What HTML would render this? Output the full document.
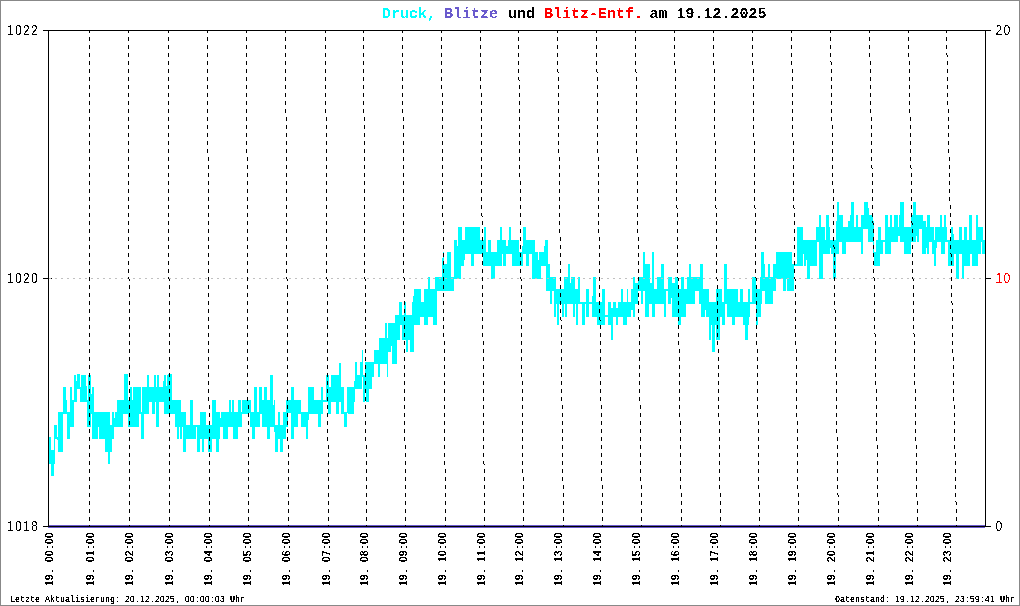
<!DOCTYPE html>
<html><head><meta charset="utf-8"><title>Druck, Blitze und Blitz-Entf. am 19.12.2025</title>
<style>
html,body{margin:0;padding:0;background:#fff;}
body{width:1020px;height:606px;overflow:hidden;}
svg{display:block;}
text{white-space:pre;}
.m{font-family:"Liberation Mono",monospace;}
.s{font-family:"Liberation Sans",sans-serif;}
.b{font-weight:bold;}
</style></head>
<body>
<svg width="1020" height="606" viewBox="0 0 1020 606">
<rect width="1020" height="606" fill="#fff"/>
<g shape-rendering="crispEdges">
<path fill="#00ffff" d="M49 437h2v27h-2zM51 450h3v26h-3zM54 425h1v39h-1zM55 425h2v14h-2zM57 437h1v3h-1zM58 412h5v40h-5zM63 387h3v27h-3zM66 400h1v14h-1zM67 412h3v27h-3zM70 387h2v40h-2zM72 400h2v27h-2zM74 375h2v27h-2zM76 381h1v21h-1zM77 374h3v15h-3zM80 387h1v15h-1zM81 375h5v27h-5zM86 386h1v16h-1zM87 400h1v27h-1zM88 375h3v52h-3zM91 394h1v20h-1zM92 387h2v52h-2zM94 412h4v27h-4zM98 412h1v15h-1zM99 412h6v27h-6zM105 412h3v40h-3zM108 412h2v52h-2zM110 425h2v27h-2zM112 412h2v27h-2zM114 418h1v9h-1zM115 412h2v15h-2zM117 400h6v27h-6zM123 400h1v14h-1zM124 374h4v40h-4zM128 400h2v27h-2zM130 387h2v40h-2zM132 400h1v27h-1zM133 387h6v40h-6zM139 387h2v27h-2zM141 412h1v27h-1zM142 387h2v52h-2zM144 387h3v27h-3zM147 375h2v39h-2zM149 387h3v15h-3zM152 387h2v27h-2zM154 375h1v39h-1zM155 375h1v27h-1zM156 387h1v40h-1zM157 375h2v52h-2zM159 387h4v15h-4zM163 381h1v21h-1zM164 375h2v39h-2zM166 386h1v28h-1zM167 375h1v39h-1zM168 374h4v40h-4zM172 400h3v14h-3zM175 400h2v27h-2zM177 400h2v39h-2zM179 400h1v27h-1zM180 400h1v39h-1zM181 412h1v27h-1zM182 412h1v15h-1zM183 412h3v40h-3zM186 425h4v14h-4zM190 400h3v39h-3zM193 425h3v14h-3zM196 425h1v2h-1zM197 425h3v27h-3zM200 412h2v27h-2zM202 412h2v40h-2zM204 412h2v27h-2zM206 425h2v14h-2zM208 425h4v27h-4zM212 400h4v39h-4zM216 412h3v40h-3zM219 412h1v27h-1zM220 418h1v9h-1zM221 412h2v15h-2zM223 412h5v27h-5zM228 412h1v15h-1zM229 400h2v27h-2zM231 412h1v15h-1zM232 400h1v27h-1zM233 400h1v39h-1zM234 412h4v27h-4zM238 400h3v27h-3zM241 412h1v15h-1zM242 400h6v14h-6zM248 400h2v13h-2zM250 400h1v27h-1zM251 412h1v15h-1zM252 412h2v27h-2zM254 387h1v52h-1zM255 387h2v40h-2zM257 412h2v15h-2zM259 387h1v40h-1zM260 387h2v27h-2zM262 400h2v27h-2zM264 387h3v40h-3zM267 400h3v39h-3zM270 375h3v52h-3zM273 405h1v22h-1zM274 400h1v32h-1zM275 425h3v27h-3zM278 412h2v27h-2zM280 425h3v27h-3zM283 412h3v27h-3zM286 400h2v27h-2zM288 400h3v13h-3zM291 387h3v52h-3zM294 400h4v27h-4zM298 400h3v14h-3zM301 412h5v15h-5zM306 412h2v27h-2zM308 387h1v33h-1zM309 387h5v27h-5zM314 400h4v14h-4zM318 400h3v27h-3zM321 387h2v27h-2zM323 400h3v2h-3zM326 375h2v27h-2zM328 375h1v39h-1zM329 387h2v27h-2zM331 375h5v27h-5zM336 375h3v39h-3zM339 363h2v39h-2zM341 387h3v27h-3zM344 412h3v15h-3zM347 387h1v26h-1zM348 387h6v27h-6zM354 381h1v21h-1zM355 362h2v27h-2zM357 375h3v14h-3zM360 362h2v27h-2zM362 350h1v27h-1zM363 375h2v27h-2zM365 362h1v27h-1zM366 362h3v40h-3zM369 362h3v27h-3zM372 362h2v15h-2zM374 350h4v14h-4zM378 350h1v27h-1zM379 338h1v39h-1zM380 338h5v26h-5zM385 323h2v41h-2zM387 338h1v39h-1zM388 323h3v29h-3zM391 323h1v23h-1zM392 323h3v41h-3zM395 315h2v49h-2zM397 315h2v25h-2zM399 302h1v38h-1zM400 302h2v23h-2zM402 315h2v25h-2zM404 302h2v38h-2zM406 315h2v37h-2zM408 315h2v25h-2zM410 315h2v37h-2zM412 302h1v50h-1zM413 296h1v56h-1zM414 289h6v36h-6zM420 289h1v28h-1zM421 302h3v15h-3zM424 289h4v36h-4zM428 277h2v40h-2zM430 289h3v28h-3zM433 289h2v36h-2zM435 277h2v48h-2zM437 277h5v14h-5zM442 258h1v33h-1zM443 252h1v39h-1zM444 264h3v27h-3zM447 252h4v39h-4zM451 277h3v14h-3zM454 240h3v39h-3zM457 246h1v33h-1zM458 227h3v52h-3zM461 227h1v39h-1zM462 240h2v26h-2zM464 240h1v20h-1zM465 227h6v27h-6zM471 227h3v39h-3zM474 227h6v27h-6zM480 240h3v14h-3zM483 240h1v26h-1zM484 227h2v39h-2zM486 252h2v14h-2zM488 240h3v26h-3zM491 252h4v27h-4zM495 252h2v14h-2zM497 240h3v26h-3zM500 227h2v39h-2zM502 240h1v14h-1zM503 240h3v26h-3zM506 246h2v8h-2zM508 240h1v14h-1zM509 227h2v27h-2zM511 240h1v14h-1zM512 240h7v26h-7zM519 252h3v14h-3zM522 246h1v20h-1zM523 227h3v27h-3zM526 240h3v26h-3zM529 240h3v14h-3zM532 240h3v39h-3zM535 252h3v27h-3zM538 260h1v19h-1zM539 252h2v27h-2zM541 252h3v14h-3zM544 246h1v20h-1zM545 240h1v26h-1zM546 240h2v51h-2zM548 264h2v27h-2zM550 277h2v27h-2zM552 277h2v14h-2zM554 277h2v40h-2zM556 289h1v15h-1zM557 289h2v36h-2zM559 289h3v15h-3zM562 289h2v28h-2zM564 277h1v27h-1zM565 277h2v40h-2zM567 277h1v27h-1zM568 264h2v40h-2zM570 283h1v21h-1zM571 277h2v27h-2zM573 277h2v40h-2zM575 289h1v15h-1zM576 289h2v36h-2zM578 277h2v27h-2zM580 302h2v2h-2zM582 302h3v23h-3zM585 302h1v2h-1zM586 289h3v28h-3zM589 302h3v2h-3zM592 296h1v21h-1zM593 277h3v40h-3zM596 302h1v15h-1zM597 302h5v23h-5zM602 289h3v36h-3zM605 315h3v2h-3zM608 302h3v23h-3zM611 308h2v32h-2zM613 302h3v15h-3zM616 308h2v17h-2zM618 302h3v15h-3zM621 289h2v28h-2zM623 302h4v23h-4zM627 289h1v28h-1zM628 302h3v15h-3zM631 289h2v21h-2zM633 277h2v40h-2zM635 283h3v21h-3zM638 277h3v14h-3zM641 277h2v27h-2zM643 252h2v39h-2zM645 264h4v53h-4zM649 264h1v40h-1zM650 283h2v21h-2zM652 252h2v65h-2zM654 289h1v28h-1zM655 289h2v15h-2zM657 277h4v27h-4zM661 264h3v40h-3zM664 289h2v28h-2zM666 289h2v2h-2zM668 277h3v27h-3zM671 277h1v21h-1zM672 283h3v34h-3zM675 277h3v40h-3zM678 289h3v36h-3zM681 277h3v40h-3zM684 289h2v28h-2zM686 289h1v15h-1zM687 277h2v27h-2zM689 264h2v40h-2zM691 277h4v27h-4zM695 277h4v14h-4zM699 277h1v27h-1zM700 264h1v40h-1zM701 264h2v53h-2zM703 289h2v28h-2zM705 289h1v21h-1zM706 289h3v28h-3zM709 302h2v38h-2zM711 302h1v23h-1zM712 302h3v50h-3zM715 302h1v23h-1zM716 289h4v51h-4zM720 289h2v28h-2zM722 302h2v23h-2zM724 264h1v61h-1zM725 264h2v40h-2zM727 289h5v28h-5zM732 289h3v36h-3zM735 289h3v28h-3zM738 302h2v15h-2zM740 289h3v28h-3zM743 302h2v23h-2zM745 302h3v38h-3zM748 289h1v36h-1zM749 289h1v28h-1zM750 302h2v2h-2zM752 277h4v27h-4zM756 289h2v36h-2zM758 289h2v28h-2zM760 277h1v40h-1zM761 252h1v52h-1zM762 252h2v39h-2zM764 264h1v27h-1zM765 277h3v27h-3zM768 264h2v40h-2zM770 277h3v27h-3zM773 264h3v27h-3zM776 252h7v27h-7zM783 252h3v39h-3zM786 252h1v27h-1zM787 252h5v39h-5zM792 264h2v27h-2zM794 264h3v2h-3zM797 227h6v39h-6zM803 240h1v14h-1zM804 240h2v26h-2zM806 240h1v20h-1zM807 240h3v39h-3zM810 240h6v26h-6zM816 227h1v39h-1zM817 227h2v15h-2zM819 215h2v64h-2zM821 227h2v52h-2zM823 227h2v27h-2zM825 240h1v14h-1zM826 215h3v39h-3zM829 227h1v27h-1zM830 240h1v8h-1zM831 240h2v14h-2zM833 240h3v39h-3zM836 221h1v33h-1zM837 202h2v52h-2zM839 215h3v27h-3zM842 215h1v39h-1zM843 227h3v27h-3zM846 227h2v15h-2zM848 221h2v21h-2zM850 215h1v27h-1zM851 202h3v40h-3zM854 227h2v15h-2zM856 215h2v27h-2zM858 227h3v15h-3zM861 215h2v39h-2zM863 215h1v14h-1zM864 202h4v27h-4zM868 208h1v34h-1zM869 215h4v27h-4zM873 221h1v33h-1zM874 252h2v14h-2zM876 240h2v26h-2zM878 227h2v39h-2zM880 227h1v27h-1zM881 240h2v14h-2zM883 240h2v2h-2zM885 215h3v39h-3zM888 227h2v27h-2zM890 215h1v39h-1zM891 215h1v27h-1zM892 227h2v15h-2zM894 215h4v27h-4zM898 227h1v9h-1zM899 215h1v21h-1zM900 202h4v40h-4zM904 227h7v27h-7zM911 215h2v27h-2zM913 202h3v40h-3zM916 215h1v21h-1zM917 215h2v27h-2zM919 215h3v14h-3zM922 215h1v39h-1zM923 221h3v33h-3zM926 227h1v21h-1zM927 215h2v39h-2zM929 215h1v27h-1zM930 227h2v15h-2zM932 227h2v27h-2zM934 240h1v26h-1zM935 227h1v39h-1zM936 227h1v21h-1zM937 227h3v15h-3zM940 215h1v27h-1zM941 215h1v39h-1zM942 227h2v27h-2zM944 215h1v39h-1zM945 215h1v27h-1zM946 227h1v15h-1zM947 240h1v2h-1zM948 240h3v26h-3zM951 227h2v39h-2zM953 234h1v32h-1zM954 240h2v14h-2zM956 240h3v39h-3zM959 227h3v27h-3zM962 240h2v39h-2zM964 227h3v39h-3zM967 240h2v26h-2zM969 215h1v51h-1zM970 215h2v39h-2zM972 240h4v26h-4zM976 215h2v51h-2zM978 227h3v27h-3zM981 227h1v15h-1zM982 227h1v27h-1zM983 240h2v14h-2z"/>
<rect x="48" y="525" width="937" height="3" fill="#6a5acd"/>
<path fill="#c0c0c0" d="M49 278h2v1h-2zM55 278h2v1h-2zM61 278h2v1h-2zM67 278h2v1h-2zM73 278h2v1h-2zM79 278h2v1h-2zM85 278h2v1h-2zM91 278h2v1h-2zM97 278h2v1h-2zM103 278h2v1h-2zM109 278h2v1h-2zM115 278h2v1h-2zM121 278h2v1h-2zM127 278h2v1h-2zM133 278h2v1h-2zM139 278h2v1h-2zM145 278h2v1h-2zM151 278h2v1h-2zM157 278h2v1h-2zM163 278h2v1h-2zM169 278h2v1h-2zM175 278h2v1h-2zM181 278h2v1h-2zM187 278h2v1h-2zM193 278h2v1h-2zM199 278h2v1h-2zM205 278h2v1h-2zM211 278h2v1h-2zM217 278h2v1h-2zM223 278h2v1h-2zM229 278h2v1h-2zM235 278h2v1h-2zM241 278h2v1h-2zM247 278h2v1h-2zM253 278h2v1h-2zM259 278h2v1h-2zM265 278h2v1h-2zM271 278h2v1h-2zM277 278h2v1h-2zM283 278h2v1h-2zM289 278h2v1h-2zM295 278h2v1h-2zM301 278h2v1h-2zM307 278h2v1h-2zM313 278h2v1h-2zM319 278h2v1h-2zM325 278h2v1h-2zM331 278h2v1h-2zM337 278h2v1h-2zM343 278h2v1h-2zM349 278h2v1h-2zM355 278h2v1h-2zM361 278h2v1h-2zM367 278h2v1h-2zM373 278h2v1h-2zM379 278h2v1h-2zM385 278h2v1h-2zM391 278h2v1h-2zM397 278h2v1h-2zM403 278h2v1h-2zM409 278h2v1h-2zM415 278h2v1h-2zM421 278h2v1h-2zM427 278h2v1h-2zM433 278h2v1h-2zM439 278h2v1h-2zM445 278h2v1h-2zM451 278h2v1h-2zM457 278h2v1h-2zM463 278h2v1h-2zM469 278h2v1h-2zM475 278h2v1h-2zM481 278h2v1h-2zM487 278h2v1h-2zM493 278h2v1h-2zM499 278h2v1h-2zM505 278h2v1h-2zM511 278h2v1h-2zM517 278h2v1h-2zM523 278h2v1h-2zM529 278h2v1h-2zM535 278h2v1h-2zM541 278h2v1h-2zM547 278h2v1h-2zM553 278h2v1h-2zM559 278h2v1h-2zM565 278h2v1h-2zM571 278h2v1h-2zM577 278h2v1h-2zM583 278h2v1h-2zM589 278h2v1h-2zM595 278h2v1h-2zM601 278h2v1h-2zM607 278h2v1h-2zM613 278h2v1h-2zM619 278h2v1h-2zM625 278h2v1h-2zM631 278h2v1h-2zM637 278h2v1h-2zM643 278h2v1h-2zM649 278h2v1h-2zM655 278h2v1h-2zM661 278h2v1h-2zM667 278h2v1h-2zM673 278h2v1h-2zM679 278h2v1h-2zM685 278h2v1h-2zM691 278h2v1h-2zM697 278h2v1h-2zM703 278h2v1h-2zM709 278h2v1h-2zM715 278h2v1h-2zM721 278h2v1h-2zM727 278h2v1h-2zM733 278h2v1h-2zM739 278h2v1h-2zM745 278h2v1h-2zM751 278h2v1h-2zM757 278h2v1h-2zM763 278h2v1h-2zM769 278h2v1h-2zM775 278h2v1h-2zM781 278h2v1h-2zM787 278h2v1h-2zM793 278h2v1h-2zM799 278h2v1h-2zM805 278h2v1h-2zM811 278h2v1h-2zM817 278h2v1h-2zM823 278h2v1h-2zM829 278h2v1h-2zM835 278h2v1h-2zM841 278h2v1h-2zM847 278h2v1h-2zM853 278h2v1h-2zM859 278h2v1h-2zM865 278h2v1h-2zM871 278h2v1h-2zM877 278h2v1h-2zM883 278h2v1h-2zM889 278h2v1h-2zM895 278h2v1h-2zM901 278h2v1h-2zM907 278h2v1h-2zM913 278h2v1h-2zM919 278h2v1h-2zM925 278h2v1h-2zM931 278h2v1h-2zM937 278h2v1h-2zM943 278h2v1h-2zM949 278h2v1h-2zM955 278h2v1h-2zM961 278h2v1h-2zM967 278h2v1h-2zM973 278h2v1h-2zM979 278h2v1h-2z"/>
<rect x="51" y="278" width="1" height="1" fill="#000"/>
<path fill="#000" d="M89 31h1v2h-1zM89 37h1v4h-1zM89 45h1v4h-1zM89 53h1v4h-1zM89 61h1v4h-1zM89 69h1v4h-1zM89 77h1v4h-1zM89 85h1v4h-1zM89 93h1v4h-1zM89 101h1v4h-1zM89 109h1v4h-1zM89 117h1v4h-1zM89 125h1v4h-1zM89 133h1v4h-1zM89 141h1v4h-1zM89 149h1v4h-1zM89 157h1v4h-1zM89 165h1v4h-1zM89 173h1v4h-1zM89 181h1v4h-1zM89 189h1v4h-1zM89 197h1v4h-1zM89 205h1v4h-1zM89 213h1v4h-1zM89 221h1v4h-1zM89 229h1v4h-1zM89 237h1v4h-1zM89 245h1v4h-1zM89 253h1v4h-1zM89 261h1v4h-1zM89 269h1v4h-1zM89 277h1v4h-1zM89 285h1v4h-1zM89 293h1v4h-1zM89 301h1v4h-1zM89 309h1v4h-1zM89 317h1v4h-1zM89 325h1v4h-1zM89 333h1v4h-1zM89 341h1v4h-1zM89 349h1v4h-1zM89 357h1v4h-1zM89 365h1v4h-1zM89 373h1v4h-1zM89 381h1v4h-1zM89 389h1v4h-1zM89 397h1v4h-1zM89 405h1v4h-1zM89 413h1v4h-1zM89 421h1v4h-1zM89 429h1v4h-1zM89 437h1v4h-1zM89 445h1v4h-1zM89 453h1v4h-1zM89 461h1v4h-1zM89 469h1v4h-1zM89 477h1v4h-1zM89 485h1v4h-1zM89 493h1v4h-1zM89 501h1v4h-1zM89 509h1v4h-1zM89 517h1v4h-1zM89 525h1v1h-1zM128 31h1v2h-1zM128 37h1v4h-1zM128 45h1v4h-1zM128 53h1v4h-1zM128 61h1v4h-1zM128 69h1v4h-1zM128 77h1v4h-1zM128 85h1v4h-1zM128 93h1v4h-1zM128 101h1v4h-1zM128 109h1v4h-1zM128 117h1v4h-1zM128 125h1v4h-1zM128 133h1v4h-1zM128 141h1v4h-1zM128 149h1v4h-1zM128 157h1v4h-1zM128 165h1v4h-1zM128 173h1v4h-1zM128 181h1v4h-1zM128 189h1v4h-1zM128 197h1v4h-1zM128 205h1v4h-1zM128 213h1v4h-1zM128 221h1v4h-1zM128 229h1v4h-1zM128 237h1v4h-1zM128 245h1v4h-1zM128 253h1v4h-1zM128 261h1v4h-1zM128 269h1v4h-1zM128 277h1v2h-1zM129 279h1v2h-1zM129 285h1v4h-1zM129 293h1v4h-1zM129 301h1v4h-1zM129 309h1v4h-1zM129 317h1v4h-1zM129 325h1v4h-1zM129 333h1v4h-1zM129 341h1v4h-1zM129 349h1v4h-1zM129 357h1v4h-1zM129 365h1v4h-1zM129 373h1v4h-1zM129 381h1v4h-1zM129 389h1v4h-1zM129 397h1v4h-1zM129 405h1v4h-1zM129 413h1v4h-1zM129 421h1v4h-1zM129 429h1v4h-1zM129 437h1v4h-1zM129 445h1v4h-1zM129 453h1v4h-1zM129 461h1v4h-1zM129 469h1v4h-1zM129 477h1v4h-1zM129 485h1v4h-1zM129 493h1v4h-1zM129 501h1v4h-1zM129 509h1v4h-1zM129 517h1v4h-1zM129 525h1v1h-1zM168 31h1v2h-1zM168 37h1v4h-1zM168 45h1v4h-1zM168 53h1v4h-1zM168 61h1v4h-1zM168 69h1v4h-1zM168 77h1v4h-1zM168 85h1v4h-1zM168 93h1v4h-1zM168 101h1v4h-1zM168 109h1v4h-1zM168 117h1v4h-1zM168 125h1v4h-1zM168 133h1v4h-1zM168 141h1v4h-1zM168 149h1v4h-1zM168 157h1v4h-1zM168 165h1v4h-1zM168 173h1v4h-1zM168 181h1v4h-1zM168 189h1v4h-1zM168 197h1v4h-1zM168 205h1v4h-1zM168 213h1v4h-1zM168 221h1v4h-1zM168 229h1v4h-1zM168 237h1v4h-1zM168 245h1v4h-1zM168 253h1v4h-1zM168 261h1v4h-1zM168 269h1v4h-1zM168 277h1v2h-1zM169 279h1v2h-1zM169 285h1v4h-1zM169 293h1v4h-1zM169 301h1v4h-1zM169 309h1v4h-1zM169 317h1v4h-1zM169 325h1v4h-1zM169 333h1v4h-1zM169 341h1v4h-1zM169 349h1v4h-1zM169 357h1v4h-1zM169 365h1v4h-1zM169 373h1v4h-1zM169 381h1v4h-1zM169 389h1v4h-1zM169 397h1v4h-1zM169 405h1v4h-1zM169 413h1v4h-1zM169 421h1v4h-1zM169 429h1v4h-1zM169 437h1v4h-1zM169 445h1v4h-1zM169 453h1v4h-1zM169 461h1v4h-1zM169 469h1v4h-1zM169 477h1v4h-1zM169 485h1v4h-1zM169 493h1v4h-1zM169 501h1v4h-1zM169 509h1v4h-1zM169 517h1v4h-1zM169 525h1v1h-1zM207 31h1v2h-1zM207 37h1v4h-1zM207 45h1v4h-1zM207 53h1v4h-1zM207 61h1v4h-1zM207 69h1v4h-1zM207 77h1v4h-1zM207 85h1v4h-1zM207 93h1v4h-1zM207 101h1v4h-1zM207 109h1v4h-1zM207 117h1v4h-1zM207 125h1v4h-1zM207 133h1v4h-1zM207 141h1v4h-1zM207 149h1v4h-1zM208 157h1v4h-1zM208 165h1v4h-1zM208 173h1v4h-1zM208 181h1v4h-1zM208 189h1v4h-1zM208 197h1v4h-1zM208 205h1v4h-1zM208 213h1v4h-1zM208 221h1v4h-1zM208 229h1v4h-1zM208 237h1v4h-1zM208 245h1v4h-1zM208 253h1v4h-1zM208 261h1v4h-1zM208 269h1v4h-1zM208 277h1v4h-1zM208 285h1v4h-1zM208 293h1v4h-1zM208 301h1v4h-1zM208 309h1v4h-1zM208 317h1v4h-1zM208 325h1v4h-1zM208 333h1v4h-1zM208 341h1v4h-1zM208 349h1v4h-1zM208 357h1v4h-1zM208 365h1v4h-1zM208 373h1v4h-1zM208 381h1v4h-1zM208 389h1v4h-1zM208 397h1v4h-1zM209 405h1v4h-1zM209 413h1v4h-1zM209 421h1v4h-1zM209 429h1v4h-1zM209 437h1v4h-1zM209 445h1v4h-1zM209 453h1v4h-1zM209 461h1v4h-1zM209 469h1v4h-1zM209 477h1v4h-1zM209 485h1v4h-1zM209 493h1v4h-1zM209 501h1v4h-1zM209 509h1v4h-1zM209 517h1v4h-1zM209 525h1v1h-1zM246 31h1v2h-1zM246 37h1v4h-1zM246 45h1v4h-1zM246 53h1v4h-1zM246 61h1v4h-1zM246 69h1v4h-1zM246 77h1v4h-1zM246 85h1v4h-1zM246 93h1v4h-1zM246 101h1v4h-1zM246 109h1v4h-1zM246 117h1v4h-1zM246 125h1v4h-1zM246 133h1v4h-1zM246 141h1v4h-1zM246 149h1v4h-1zM247 157h1v4h-1zM247 165h1v4h-1zM247 173h1v4h-1zM247 181h1v4h-1zM247 189h1v4h-1zM247 197h1v4h-1zM247 205h1v4h-1zM247 213h1v4h-1zM247 221h1v4h-1zM247 229h1v4h-1zM247 237h1v4h-1zM247 245h1v4h-1zM247 253h1v4h-1zM247 261h1v4h-1zM247 269h1v4h-1zM247 277h1v4h-1zM247 285h1v4h-1zM247 293h1v4h-1zM247 301h1v4h-1zM247 309h1v4h-1zM247 317h1v4h-1zM247 325h1v4h-1zM247 333h1v4h-1zM247 341h1v4h-1zM247 349h1v4h-1zM247 357h1v4h-1zM247 365h1v4h-1zM247 373h1v4h-1zM247 381h1v4h-1zM247 389h1v4h-1zM247 397h1v4h-1zM248 405h1v4h-1zM248 413h1v4h-1zM248 421h1v4h-1zM248 429h1v4h-1zM248 437h1v4h-1zM248 445h1v4h-1zM248 453h1v4h-1zM248 461h1v4h-1zM248 469h1v4h-1zM248 477h1v4h-1zM248 485h1v4h-1zM248 493h1v4h-1zM248 501h1v4h-1zM248 509h1v4h-1zM248 517h1v4h-1zM248 525h1v1h-1zM285 31h1v2h-1zM285 37h1v4h-1zM285 45h1v4h-1zM285 53h1v4h-1zM285 61h1v4h-1zM285 69h1v4h-1zM285 77h1v4h-1zM285 85h1v4h-1zM285 93h1v4h-1zM285 101h1v4h-1zM285 109h1v4h-1zM286 117h1v4h-1zM286 125h1v4h-1zM286 133h1v4h-1zM286 141h1v4h-1zM286 149h1v4h-1zM286 157h1v4h-1zM286 165h1v4h-1zM286 173h1v4h-1zM286 181h1v4h-1zM286 189h1v4h-1zM286 197h1v4h-1zM286 205h1v4h-1zM286 213h1v4h-1zM286 221h1v4h-1zM286 229h1v4h-1zM286 237h1v4h-1zM286 245h1v4h-1zM286 253h1v4h-1zM286 261h1v4h-1zM286 269h1v4h-1zM286 277h1v2h-1zM287 279h1v2h-1zM287 285h1v4h-1zM287 293h1v4h-1zM287 301h1v4h-1zM287 309h1v4h-1zM287 317h1v4h-1zM287 325h1v4h-1zM287 333h1v4h-1zM287 341h1v4h-1zM287 349h1v4h-1zM287 357h1v4h-1zM287 365h1v4h-1zM287 373h1v4h-1zM287 381h1v4h-1zM287 389h1v4h-1zM287 397h1v4h-1zM287 405h1v4h-1zM287 413h1v4h-1zM287 421h1v4h-1zM287 429h1v4h-1zM287 437h1v4h-1zM288 445h1v4h-1zM288 453h1v4h-1zM288 461h1v4h-1zM288 469h1v4h-1zM288 477h1v4h-1zM288 485h1v4h-1zM288 493h1v4h-1zM288 501h1v4h-1zM288 509h1v4h-1zM288 517h1v4h-1zM288 525h1v1h-1zM325 31h1v2h-1zM325 37h1v4h-1zM325 45h1v4h-1zM325 53h1v4h-1zM325 61h1v4h-1zM325 69h1v4h-1zM325 77h1v4h-1zM325 85h1v4h-1zM325 93h1v4h-1zM325 101h1v4h-1zM325 109h1v4h-1zM326 117h1v4h-1zM326 125h1v4h-1zM326 133h1v4h-1zM326 141h1v4h-1zM326 149h1v4h-1zM326 157h1v4h-1zM326 165h1v4h-1zM326 173h1v4h-1zM326 181h1v4h-1zM326 189h1v4h-1zM326 197h1v4h-1zM326 205h1v4h-1zM326 213h1v4h-1zM326 221h1v4h-1zM326 229h1v4h-1zM326 237h1v4h-1zM326 245h1v4h-1zM326 253h1v4h-1zM326 261h1v4h-1zM326 269h1v4h-1zM326 277h1v2h-1zM327 279h1v2h-1zM327 285h1v4h-1zM327 293h1v4h-1zM327 301h1v4h-1zM327 309h1v4h-1zM327 317h1v4h-1zM327 325h1v4h-1zM327 333h1v4h-1zM327 341h1v4h-1zM327 349h1v4h-1zM327 357h1v4h-1zM327 365h1v4h-1zM327 373h1v4h-1zM327 381h1v4h-1zM327 389h1v4h-1zM327 397h1v4h-1zM327 405h1v4h-1zM327 413h1v4h-1zM327 421h1v4h-1zM327 429h1v4h-1zM327 437h1v4h-1zM328 445h1v4h-1zM328 453h1v4h-1zM328 461h1v4h-1zM328 469h1v4h-1zM328 477h1v4h-1zM328 485h1v4h-1zM328 493h1v4h-1zM328 501h1v4h-1zM328 509h1v4h-1zM328 517h1v4h-1zM328 525h1v1h-1zM363 31h1v2h-1zM363 37h1v4h-1zM363 45h1v4h-1zM363 53h1v4h-1zM363 61h1v4h-1zM363 69h1v4h-1zM363 77h1v4h-1zM363 85h1v4h-1zM363 93h1v4h-1zM363 101h1v4h-1zM363 109h1v4h-1zM364 117h1v4h-1zM364 125h1v4h-1zM364 133h1v4h-1zM364 141h1v4h-1zM364 149h1v4h-1zM364 157h1v4h-1zM364 165h1v4h-1zM364 173h1v4h-1zM364 181h1v4h-1zM364 189h1v4h-1zM364 197h1v4h-1zM364 205h1v4h-1zM364 213h1v4h-1zM364 221h1v4h-1zM364 229h1v4h-1zM364 237h1v4h-1zM364 245h1v4h-1zM364 253h1v4h-1zM364 261h1v4h-1zM364 269h1v4h-1zM364 277h1v2h-1zM365 279h1v2h-1zM365 285h1v4h-1zM365 293h1v4h-1zM365 301h1v4h-1zM365 309h1v4h-1zM365 317h1v4h-1zM365 325h1v4h-1zM365 333h1v4h-1zM365 341h1v4h-1zM365 349h1v4h-1zM365 357h1v4h-1zM365 365h1v4h-1zM365 373h1v4h-1zM365 381h1v4h-1zM365 389h1v4h-1zM365 397h1v4h-1zM365 405h1v4h-1zM365 413h1v4h-1zM365 421h1v4h-1zM365 429h1v4h-1zM365 437h1v4h-1zM366 445h1v4h-1zM366 453h1v4h-1zM366 461h1v4h-1zM366 469h1v4h-1zM366 477h1v4h-1zM366 485h1v4h-1zM366 493h1v4h-1zM366 501h1v4h-1zM366 509h1v4h-1zM366 517h1v4h-1zM366 525h1v1h-1zM402 31h1v2h-1zM402 37h1v4h-1zM402 45h1v4h-1zM402 53h1v4h-1zM402 61h1v4h-1zM402 69h1v4h-1zM402 77h1v4h-1zM402 85h1v4h-1zM402 93h1v4h-1zM402 101h1v4h-1zM402 109h1v4h-1zM403 117h1v4h-1zM403 125h1v4h-1zM403 133h1v4h-1zM403 141h1v4h-1zM403 149h1v4h-1zM403 157h1v4h-1zM403 165h1v4h-1zM403 173h1v4h-1zM403 181h1v4h-1zM403 189h1v4h-1zM403 197h1v4h-1zM403 205h1v4h-1zM403 213h1v4h-1zM403 221h1v4h-1zM403 229h1v4h-1zM403 237h1v4h-1zM403 245h1v4h-1zM403 253h1v4h-1zM403 261h1v4h-1zM403 269h1v4h-1zM403 277h1v1h-1zM404 278h1v3h-1zM404 285h1v4h-1zM404 293h1v4h-1zM404 301h1v4h-1zM404 309h1v4h-1zM404 317h1v4h-1zM404 325h1v4h-1zM404 333h1v4h-1zM404 341h1v4h-1zM404 349h1v4h-1zM404 357h1v4h-1zM404 365h1v4h-1zM404 373h1v4h-1zM404 381h1v4h-1zM404 389h1v4h-1zM404 397h1v4h-1zM404 405h1v4h-1zM404 413h1v4h-1zM404 421h1v4h-1zM404 429h1v4h-1zM404 437h1v4h-1zM405 445h1v4h-1zM405 453h1v4h-1zM405 461h1v4h-1zM405 469h1v4h-1zM405 477h1v4h-1zM405 485h1v4h-1zM405 493h1v4h-1zM405 501h1v4h-1zM405 509h1v4h-1zM405 517h1v4h-1zM405 525h1v1h-1zM441 31h1v2h-1zM441 37h1v4h-1zM441 45h1v4h-1zM441 53h1v4h-1zM441 61h1v4h-1zM441 69h1v4h-1zM441 77h1v4h-1zM441 85h1v4h-1zM442 93h1v4h-1zM442 101h1v4h-1zM442 109h1v4h-1zM442 117h1v4h-1zM442 125h1v4h-1zM442 133h1v4h-1zM442 141h1v4h-1zM442 149h1v4h-1zM442 157h1v4h-1zM442 165h1v4h-1zM442 173h1v4h-1zM442 181h1v4h-1zM442 189h1v4h-1zM442 197h1v4h-1zM442 205h1v4h-1zM442 213h1v4h-1zM443 221h1v4h-1zM443 229h1v4h-1zM443 237h1v4h-1zM443 245h1v4h-1zM443 253h1v4h-1zM443 261h1v4h-1zM443 269h1v4h-1zM443 277h1v4h-1zM443 285h1v4h-1zM443 293h1v4h-1zM443 301h1v4h-1zM443 309h1v4h-1zM443 317h1v4h-1zM443 325h1v4h-1zM443 333h1v4h-1zM444 341h1v4h-1zM444 349h1v4h-1zM444 357h1v4h-1zM444 365h1v4h-1zM444 373h1v4h-1zM444 381h1v4h-1zM444 389h1v4h-1zM444 397h1v4h-1zM444 405h1v4h-1zM444 413h1v4h-1zM444 421h1v4h-1zM444 429h1v4h-1zM444 437h1v4h-1zM444 445h1v4h-1zM444 453h1v4h-1zM444 461h1v4h-1zM445 469h1v4h-1zM445 477h1v4h-1zM445 485h1v4h-1zM445 493h1v4h-1zM445 501h1v4h-1zM445 509h1v4h-1zM445 517h1v4h-1zM445 525h1v1h-1zM480 31h1v2h-1zM480 37h1v4h-1zM480 45h1v4h-1zM480 53h1v4h-1zM480 61h1v4h-1zM480 69h1v4h-1zM480 77h1v4h-1zM480 85h1v4h-1zM481 93h1v4h-1zM481 101h1v4h-1zM481 109h1v4h-1zM481 117h1v4h-1zM481 125h1v4h-1zM481 133h1v4h-1zM481 141h1v4h-1zM481 149h1v4h-1zM481 157h1v4h-1zM481 165h1v4h-1zM481 173h1v4h-1zM481 181h1v4h-1zM481 189h1v4h-1zM481 197h1v4h-1zM481 205h1v4h-1zM481 213h1v3h-1zM482 216h1v1h-1zM482 221h1v4h-1zM482 229h1v4h-1zM482 237h1v4h-1zM482 245h1v4h-1zM482 253h1v4h-1zM482 261h1v4h-1zM482 269h1v4h-1zM482 277h1v4h-1zM482 285h1v4h-1zM482 293h1v4h-1zM482 301h1v4h-1zM482 309h1v4h-1zM482 317h1v4h-1zM482 325h1v4h-1zM482 333h1v4h-1zM483 341h1v4h-1zM483 349h1v4h-1zM483 357h1v4h-1zM483 365h1v4h-1zM483 373h1v4h-1zM483 381h1v4h-1zM483 389h1v4h-1zM483 397h1v4h-1zM483 405h1v4h-1zM483 413h1v4h-1zM483 421h1v4h-1zM483 429h1v4h-1zM483 437h1v4h-1zM483 445h1v4h-1zM483 453h1v4h-1zM483 461h1v3h-1zM484 464h1v1h-1zM484 469h1v4h-1zM484 477h1v4h-1zM484 485h1v4h-1zM484 493h1v4h-1zM484 501h1v4h-1zM484 509h1v4h-1zM484 517h1v4h-1zM484 525h1v1h-1zM518 31h1v2h-1zM518 37h1v4h-1zM518 45h1v4h-1zM518 53h1v4h-1zM518 61h1v4h-1zM518 69h1v4h-1zM518 77h1v3h-1zM519 80h1v1h-1zM519 85h1v4h-1zM519 93h1v4h-1zM519 101h1v4h-1zM519 109h1v4h-1zM519 117h1v4h-1zM519 125h1v4h-1zM519 133h1v4h-1zM519 141h1v4h-1zM519 149h1v4h-1zM519 157h1v4h-1zM519 165h1v4h-1zM519 173h1v4h-1zM520 181h1v4h-1zM520 189h1v4h-1zM520 197h1v4h-1zM520 205h1v4h-1zM520 213h1v4h-1zM520 221h1v4h-1zM520 229h1v4h-1zM520 237h1v4h-1zM520 245h1v4h-1zM520 253h1v4h-1zM520 261h1v4h-1zM520 269h1v4h-1zM520 277h1v2h-1zM521 279h1v2h-1zM521 285h1v4h-1zM521 293h1v4h-1zM521 301h1v4h-1zM521 309h1v4h-1zM521 317h1v4h-1zM521 325h1v4h-1zM521 333h1v4h-1zM521 341h1v4h-1zM521 349h1v4h-1zM521 357h1v4h-1zM521 365h1v4h-1zM521 373h1v4h-1zM522 381h1v4h-1zM522 389h1v4h-1zM522 397h1v4h-1zM522 405h1v4h-1zM522 413h1v4h-1zM522 421h1v4h-1zM522 429h1v4h-1zM522 437h1v4h-1zM522 445h1v4h-1zM522 453h1v4h-1zM522 461h1v4h-1zM522 469h1v4h-1zM523 477h1v4h-1zM523 485h1v4h-1zM523 493h1v4h-1zM523 501h1v4h-1zM523 509h1v4h-1zM523 517h1v4h-1zM523 525h1v1h-1zM557 31h1v2h-1zM557 37h1v4h-1zM557 45h1v4h-1zM557 53h1v4h-1zM557 61h1v4h-1zM557 69h1v3h-1zM558 72h1v1h-1zM558 77h1v4h-1zM558 85h1v4h-1zM558 93h1v4h-1zM558 101h1v4h-1zM558 109h1v4h-1zM558 117h1v4h-1zM558 125h1v4h-1zM558 133h1v4h-1zM558 141h1v4h-1zM558 149h1v4h-1zM559 157h1v4h-1zM559 165h1v4h-1zM559 173h1v4h-1zM559 181h1v4h-1zM559 189h1v4h-1zM559 197h1v4h-1zM559 205h1v4h-1zM559 213h1v4h-1zM559 221h1v4h-1zM559 229h1v4h-1zM560 237h1v4h-1zM560 245h1v4h-1zM560 253h1v4h-1zM560 261h1v4h-1zM560 269h1v4h-1zM560 277h1v4h-1zM560 285h1v4h-1zM560 293h1v4h-1zM560 301h1v4h-1zM560 309h1v4h-1zM560 317h1v3h-1zM561 320h1v1h-1zM561 325h1v4h-1zM561 333h1v4h-1zM561 341h1v4h-1zM561 349h1v4h-1zM561 357h1v4h-1zM561 365h1v4h-1zM561 373h1v4h-1zM561 381h1v4h-1zM561 389h1v4h-1zM561 397h1v4h-1zM562 405h1v4h-1zM562 413h1v4h-1zM562 421h1v4h-1zM562 429h1v4h-1zM562 437h1v4h-1zM562 445h1v4h-1zM562 453h1v4h-1zM562 461h1v4h-1zM562 469h1v4h-1zM562 477h1v4h-1zM563 485h1v4h-1zM563 493h1v4h-1zM563 501h1v4h-1zM563 509h1v4h-1zM563 517h1v4h-1zM563 525h1v1h-1zM596 31h1v2h-1zM596 37h1v4h-1zM596 45h1v4h-1zM596 53h1v4h-1zM596 61h1v4h-1zM596 69h1v3h-1zM597 72h1v1h-1zM597 77h1v4h-1zM597 85h1v4h-1zM597 93h1v4h-1zM597 101h1v4h-1zM597 109h1v4h-1zM597 117h1v4h-1zM597 125h1v4h-1zM597 133h1v4h-1zM597 141h1v4h-1zM597 149h1v4h-1zM598 157h1v4h-1zM598 165h1v4h-1zM598 173h1v4h-1zM598 181h1v4h-1zM598 189h1v4h-1zM598 197h1v4h-1zM598 205h1v4h-1zM598 213h1v4h-1zM598 221h1v4h-1zM598 229h1v4h-1zM599 237h1v4h-1zM599 245h1v4h-1zM599 253h1v4h-1zM599 261h1v4h-1zM599 269h1v4h-1zM599 277h1v4h-1zM599 285h1v4h-1zM599 293h1v4h-1zM599 301h1v4h-1zM599 309h1v4h-1zM599 317h1v3h-1zM600 320h1v1h-1zM600 325h1v4h-1zM600 333h1v4h-1zM600 341h1v4h-1zM600 349h1v4h-1zM600 357h1v4h-1zM600 365h1v4h-1zM600 373h1v4h-1zM600 381h1v4h-1zM600 389h1v4h-1zM600 397h1v4h-1zM601 405h1v4h-1zM601 413h1v4h-1zM601 421h1v4h-1zM601 429h1v4h-1zM601 437h1v4h-1zM601 445h1v4h-1zM601 453h1v4h-1zM601 461h1v4h-1zM601 469h1v4h-1zM601 477h1v4h-1zM602 485h1v4h-1zM602 493h1v4h-1zM602 501h1v4h-1zM602 509h1v4h-1zM602 517h1v4h-1zM602 525h1v1h-1zM635 31h1v2h-1zM635 37h1v4h-1zM635 45h1v4h-1zM635 53h1v4h-1zM635 61h1v4h-1zM635 69h1v3h-1zM636 72h1v1h-1zM636 77h1v4h-1zM636 85h1v4h-1zM636 93h1v4h-1zM636 101h1v4h-1zM636 109h1v4h-1zM636 117h1v4h-1zM636 125h1v4h-1zM636 133h1v4h-1zM636 141h1v4h-1zM636 149h1v4h-1zM637 157h1v4h-1zM637 165h1v4h-1zM637 173h1v4h-1zM637 181h1v4h-1zM637 189h1v4h-1zM637 197h1v4h-1zM637 205h1v4h-1zM637 213h1v4h-1zM637 221h1v4h-1zM637 229h1v4h-1zM638 237h1v4h-1zM638 245h1v4h-1zM638 253h1v4h-1zM638 261h1v4h-1zM638 269h1v4h-1zM638 277h1v4h-1zM638 285h1v4h-1zM638 293h1v4h-1zM638 301h1v4h-1zM638 309h1v4h-1zM638 317h1v3h-1zM639 320h1v1h-1zM639 325h1v4h-1zM639 333h1v4h-1zM639 341h1v4h-1zM639 349h1v4h-1zM639 357h1v4h-1zM639 365h1v4h-1zM639 373h1v4h-1zM639 381h1v4h-1zM639 389h1v4h-1zM639 397h1v4h-1zM640 405h1v4h-1zM640 413h1v4h-1zM640 421h1v4h-1zM640 429h1v4h-1zM640 437h1v4h-1zM640 445h1v4h-1zM640 453h1v4h-1zM640 461h1v4h-1zM640 469h1v4h-1zM640 477h1v4h-1zM641 485h1v4h-1zM641 493h1v4h-1zM641 501h1v4h-1zM641 509h1v4h-1zM641 517h1v4h-1zM641 525h1v1h-1zM674 31h1v2h-1zM674 37h1v4h-1zM674 45h1v4h-1zM674 53h1v4h-1zM674 61h1v4h-1zM675 69h1v4h-1zM675 77h1v4h-1zM675 85h1v4h-1zM675 93h1v4h-1zM675 101h1v4h-1zM675 109h1v4h-1zM675 117h1v4h-1zM675 125h1v4h-1zM675 133h1v4h-1zM676 141h1v4h-1zM676 149h1v4h-1zM676 157h1v4h-1zM676 165h1v4h-1zM676 173h1v4h-1zM676 181h1v4h-1zM676 189h1v4h-1zM676 197h1v4h-1zM676 205h1v3h-1zM677 208h1v1h-1zM677 213h1v4h-1zM677 221h1v4h-1zM677 229h1v4h-1zM677 237h1v4h-1zM677 245h1v4h-1zM677 253h1v4h-1zM677 261h1v4h-1zM677 269h1v4h-1zM677 277h1v1h-1zM678 278h1v3h-1zM678 285h1v4h-1zM678 293h1v4h-1zM678 301h1v4h-1zM678 309h1v4h-1zM678 317h1v4h-1zM678 325h1v4h-1zM678 333h1v4h-1zM678 341h1v4h-1zM679 349h1v4h-1zM679 357h1v4h-1zM679 365h1v4h-1zM679 373h1v4h-1zM679 381h1v4h-1zM679 389h1v4h-1zM679 397h1v4h-1zM679 405h1v4h-1zM679 413h1v4h-1zM680 421h1v4h-1zM680 429h1v4h-1zM680 437h1v4h-1zM680 445h1v4h-1zM680 453h1v4h-1zM680 461h1v4h-1zM680 469h1v4h-1zM680 477h1v4h-1zM680 485h1v4h-1zM681 493h1v4h-1zM681 501h1v4h-1zM681 509h1v4h-1zM681 517h1v4h-1zM681 525h1v1h-1zM713 31h1v2h-1zM713 37h1v4h-1zM713 45h1v4h-1zM713 53h1v4h-1zM713 61h1v4h-1zM714 69h1v4h-1zM714 77h1v4h-1zM714 85h1v4h-1zM714 93h1v4h-1zM714 101h1v4h-1zM714 109h1v4h-1zM714 117h1v4h-1zM714 125h1v4h-1zM714 133h1v4h-1zM715 141h1v4h-1zM715 149h1v4h-1zM715 157h1v4h-1zM715 165h1v4h-1zM715 173h1v4h-1zM715 181h1v4h-1zM715 189h1v4h-1zM715 197h1v4h-1zM715 205h1v3h-1zM716 208h1v1h-1zM716 213h1v4h-1zM716 221h1v4h-1zM716 229h1v4h-1zM716 237h1v4h-1zM716 245h1v4h-1zM716 253h1v4h-1zM716 261h1v4h-1zM716 269h1v4h-1zM716 277h1v2h-1zM717 279h1v2h-1zM717 285h1v4h-1zM717 293h1v4h-1zM717 301h1v4h-1zM717 309h1v4h-1zM717 317h1v4h-1zM717 325h1v4h-1zM717 333h1v4h-1zM717 341h1v4h-1zM718 349h1v4h-1zM718 357h1v4h-1zM718 365h1v4h-1zM718 373h1v4h-1zM718 381h1v4h-1zM718 389h1v4h-1zM718 397h1v4h-1zM718 405h1v4h-1zM718 413h1v4h-1zM719 421h1v4h-1zM719 429h1v4h-1zM719 437h1v4h-1zM719 445h1v4h-1zM719 453h1v4h-1zM719 461h1v4h-1zM719 469h1v4h-1zM719 477h1v4h-1zM719 485h1v4h-1zM720 493h1v4h-1zM720 501h1v4h-1zM720 509h1v4h-1zM720 517h1v4h-1zM720 525h1v1h-1zM752 31h1v2h-1zM752 37h1v4h-1zM752 45h1v4h-1zM752 53h1v4h-1zM752 61h1v4h-1zM753 69h1v4h-1zM753 77h1v4h-1zM753 85h1v4h-1zM753 93h1v4h-1zM753 101h1v4h-1zM753 109h1v4h-1zM753 117h1v4h-1zM753 125h1v4h-1zM753 133h1v4h-1zM754 141h1v4h-1zM754 149h1v4h-1zM754 157h1v4h-1zM754 165h1v4h-1zM754 173h1v4h-1zM754 181h1v4h-1zM754 189h1v4h-1zM754 197h1v4h-1zM754 205h1v3h-1zM755 208h1v1h-1zM755 213h1v4h-1zM755 221h1v4h-1zM755 229h1v4h-1zM755 237h1v4h-1zM755 245h1v4h-1zM755 253h1v4h-1zM755 261h1v4h-1zM755 269h1v4h-1zM755 277h1v1h-1zM756 278h1v3h-1zM756 285h1v4h-1zM756 293h1v4h-1zM756 301h1v4h-1zM756 309h1v4h-1zM756 317h1v4h-1zM756 325h1v4h-1zM756 333h1v4h-1zM756 341h1v4h-1zM757 349h1v4h-1zM757 357h1v4h-1zM757 365h1v4h-1zM757 373h1v4h-1zM757 381h1v4h-1zM757 389h1v4h-1zM757 397h1v4h-1zM757 405h1v4h-1zM757 413h1v4h-1zM758 421h1v4h-1zM758 429h1v4h-1zM758 437h1v4h-1zM758 445h1v4h-1zM758 453h1v4h-1zM758 461h1v4h-1zM758 469h1v4h-1zM758 477h1v4h-1zM758 485h1v4h-1zM759 493h1v4h-1zM759 501h1v4h-1zM759 509h1v4h-1zM759 517h1v4h-1zM759 525h1v1h-1zM791 31h1v2h-1zM791 37h1v4h-1zM791 45h1v4h-1zM791 53h1v4h-1zM791 61h1v4h-1zM792 69h1v4h-1zM792 77h1v4h-1zM792 85h1v4h-1zM792 93h1v4h-1zM792 101h1v4h-1zM792 109h1v4h-1zM792 117h1v4h-1zM792 125h1v4h-1zM792 133h1v4h-1zM793 141h1v4h-1zM793 149h1v4h-1zM793 157h1v4h-1zM793 165h1v4h-1zM793 173h1v4h-1zM793 181h1v4h-1zM793 189h1v4h-1zM793 197h1v4h-1zM793 205h1v3h-1zM794 208h1v1h-1zM794 213h1v4h-1zM794 221h1v4h-1zM794 229h1v4h-1zM794 237h1v4h-1zM794 245h1v4h-1zM794 253h1v4h-1zM794 261h1v4h-1zM794 269h1v4h-1zM794 277h1v2h-1zM795 279h1v2h-1zM795 285h1v4h-1zM795 293h1v4h-1zM795 301h1v4h-1zM795 309h1v4h-1zM795 317h1v4h-1zM795 325h1v4h-1zM795 333h1v4h-1zM795 341h1v4h-1zM796 349h1v4h-1zM796 357h1v4h-1zM796 365h1v4h-1zM796 373h1v4h-1zM796 381h1v4h-1zM796 389h1v4h-1zM796 397h1v4h-1zM796 405h1v4h-1zM796 413h1v4h-1zM797 421h1v4h-1zM797 429h1v4h-1zM797 437h1v4h-1zM797 445h1v4h-1zM797 453h1v4h-1zM797 461h1v4h-1zM797 469h1v4h-1zM797 477h1v4h-1zM797 485h1v4h-1zM798 493h1v4h-1zM798 501h1v4h-1zM798 509h1v4h-1zM798 517h1v4h-1zM798 525h1v1h-1zM830 31h1v2h-1zM830 37h1v4h-1zM830 45h1v4h-1zM830 53h1v4h-1zM830 61h1v1h-1zM831 62h1v3h-1zM831 69h1v4h-1zM831 77h1v4h-1zM831 85h1v4h-1zM831 93h1v4h-1zM831 101h1v4h-1zM831 109h1v4h-1zM831 117h1v4h-1zM832 125h1v4h-1zM832 133h1v4h-1zM832 141h1v4h-1zM832 149h1v4h-1zM832 157h1v4h-1zM832 165h1v4h-1zM832 173h1v4h-1zM832 181h1v4h-1zM833 189h1v4h-1zM833 197h1v4h-1zM833 205h1v4h-1zM833 213h1v4h-1zM833 221h1v4h-1zM833 229h1v4h-1zM833 237h1v4h-1zM833 245h1v2h-1zM834 247h1v2h-1zM834 253h1v4h-1zM834 261h1v4h-1zM834 269h1v4h-1zM834 277h1v4h-1zM834 285h1v4h-1zM834 293h1v4h-1zM834 301h1v4h-1zM834 309h1v1h-1zM835 310h1v3h-1zM835 317h1v4h-1zM835 325h1v4h-1zM835 333h1v4h-1zM835 341h1v4h-1zM835 349h1v4h-1zM835 357h1v4h-1zM835 365h1v4h-1zM836 373h1v4h-1zM836 381h1v4h-1zM836 389h1v4h-1zM836 397h1v4h-1zM836 405h1v4h-1zM836 413h1v4h-1zM836 421h1v4h-1zM836 429h1v4h-1zM837 437h1v4h-1zM837 445h1v4h-1zM837 453h1v4h-1zM837 461h1v4h-1zM837 469h1v4h-1zM837 477h1v4h-1zM837 485h1v4h-1zM837 493h1v2h-1zM838 495h1v2h-1zM838 501h1v4h-1zM838 509h1v4h-1zM838 517h1v4h-1zM838 525h1v1h-1zM869 31h1v2h-1zM869 37h1v4h-1zM869 45h1v4h-1zM869 53h1v4h-1zM870 61h1v4h-1zM870 69h1v4h-1zM870 77h1v4h-1zM870 85h1v4h-1zM870 93h1v4h-1zM870 101h1v4h-1zM870 109h1v4h-1zM871 117h1v4h-1zM871 125h1v4h-1zM871 133h1v4h-1zM871 141h1v4h-1zM871 149h1v4h-1zM871 157h1v4h-1zM871 165h1v3h-1zM872 168h1v1h-1zM872 173h1v4h-1zM872 181h1v4h-1zM872 189h1v4h-1zM872 197h1v4h-1zM872 205h1v4h-1zM872 213h1v4h-1zM872 221h1v2h-1zM873 223h1v2h-1zM873 229h1v4h-1zM873 237h1v4h-1zM873 245h1v4h-1zM873 253h1v4h-1zM873 261h1v4h-1zM873 269h1v4h-1zM873 277h1v1h-1zM874 278h1v3h-1zM874 285h1v4h-1zM874 293h1v4h-1zM874 301h1v4h-1zM874 309h1v4h-1zM874 317h1v4h-1zM874 325h1v4h-1zM874 333h1v1h-1zM875 334h1v3h-1zM875 341h1v4h-1zM875 349h1v4h-1zM875 357h1v4h-1zM875 365h1v4h-1zM875 373h1v4h-1zM875 381h1v4h-1zM876 389h1v4h-1zM876 397h1v4h-1zM876 405h1v4h-1zM876 413h1v4h-1zM876 421h1v4h-1zM876 429h1v4h-1zM876 437h1v4h-1zM877 445h1v4h-1zM877 453h1v4h-1zM877 461h1v4h-1zM877 469h1v4h-1zM877 477h1v4h-1zM877 485h1v4h-1zM877 493h1v4h-1zM878 501h1v4h-1zM878 509h1v4h-1zM878 517h1v4h-1zM878 525h1v1h-1zM908 31h1v2h-1zM908 37h1v4h-1zM908 45h1v4h-1zM908 53h1v4h-1zM909 61h1v4h-1zM909 69h1v4h-1zM909 77h1v4h-1zM909 85h1v4h-1zM909 93h1v4h-1zM909 101h1v4h-1zM909 109h1v4h-1zM910 117h1v4h-1zM910 125h1v4h-1zM910 133h1v4h-1zM910 141h1v4h-1zM910 149h1v4h-1zM910 157h1v4h-1zM910 165h1v3h-1zM911 168h1v1h-1zM911 173h1v4h-1zM911 181h1v4h-1zM911 189h1v4h-1zM911 197h1v4h-1zM911 205h1v4h-1zM911 213h1v4h-1zM911 221h1v2h-1zM912 223h1v2h-1zM912 229h1v4h-1zM912 237h1v4h-1zM912 245h1v4h-1zM912 253h1v4h-1zM912 261h1v4h-1zM912 269h1v4h-1zM912 277h1v2h-1zM913 279h1v2h-1zM913 285h1v4h-1zM913 293h1v4h-1zM913 301h1v4h-1zM913 309h1v4h-1zM913 317h1v4h-1zM913 325h1v4h-1zM913 333h1v1h-1zM914 334h1v3h-1zM914 341h1v4h-1zM914 349h1v4h-1zM914 357h1v4h-1zM914 365h1v4h-1zM914 373h1v4h-1zM914 381h1v4h-1zM915 389h1v4h-1zM915 397h1v4h-1zM915 405h1v4h-1zM915 413h1v4h-1zM915 421h1v4h-1zM915 429h1v4h-1zM915 437h1v4h-1zM916 445h1v4h-1zM916 453h1v4h-1zM916 461h1v4h-1zM916 469h1v4h-1zM916 477h1v4h-1zM916 485h1v4h-1zM916 493h1v4h-1zM917 501h1v4h-1zM917 509h1v4h-1zM917 517h1v4h-1zM917 525h1v1h-1zM946 31h1v2h-1zM946 37h1v4h-1zM946 45h1v4h-1zM946 53h1v2h-1zM947 55h1v2h-1zM947 61h1v4h-1zM947 69h1v4h-1zM947 77h1v4h-1zM947 85h1v4h-1zM947 93h1v4h-1zM947 101h1v4h-1zM948 109h1v4h-1zM948 117h1v4h-1zM948 125h1v4h-1zM948 133h1v4h-1zM948 141h1v4h-1zM948 149h1v4h-1zM949 157h1v4h-1zM949 165h1v4h-1zM949 173h1v4h-1zM949 181h1v4h-1zM949 189h1v4h-1zM949 197h1v4h-1zM950 205h1v4h-1zM950 213h1v4h-1zM950 221h1v4h-1zM950 229h1v4h-1zM950 237h1v4h-1zM950 245h1v4h-1zM950 253h1v1h-1zM951 254h1v3h-1zM951 261h1v4h-1zM951 269h1v4h-1zM951 277h1v4h-1zM951 285h1v4h-1zM951 293h1v4h-1zM951 301h1v2h-1zM952 303h1v2h-1zM952 309h1v4h-1zM952 317h1v4h-1zM952 325h1v4h-1zM952 333h1v4h-1zM952 341h1v4h-1zM952 349h1v4h-1zM953 357h1v4h-1zM953 365h1v4h-1zM953 373h1v4h-1zM953 381h1v4h-1zM953 389h1v4h-1zM953 397h1v4h-1zM954 405h1v4h-1zM954 413h1v4h-1zM954 421h1v4h-1zM954 429h1v4h-1zM954 437h1v4h-1zM954 445h1v4h-1zM955 453h1v4h-1zM955 461h1v4h-1zM955 469h1v4h-1zM955 477h1v4h-1zM955 485h1v4h-1zM955 493h1v4h-1zM955 501h1v1h-1zM956 502h1v3h-1zM956 509h1v4h-1zM956 517h1v4h-1zM956 525h1v1h-1z"/>
<rect x="43" y="30" width="948" height="1" fill="#000"/>
<rect x="48" y="30" width="1" height="497" fill="#000"/>
<rect x="985" y="30" width="1" height="497" fill="#000"/>
<rect x="43" y="526" width="948" height="1" fill="#000"/>
<rect x="43" y="278" width="5" height="1" fill="#000"/>
<rect x="986" y="278" width="5" height="1" fill="#000"/>
<rect x="0.5" y="0.5" width="1019" height="605" fill="none" stroke="#888" stroke-width="1"/>
</g>
<defs><filter id="crisp" x="0" y="0" width="100%" height="100%" color-interpolation-filters="sRGB"><feComponentTransfer><feFuncA type="discrete" tableValues="0 1 1 1"/></feComponentTransfer></filter>
<filter id="crisp3" x="0" y="0" width="100%" height="100%" color-interpolation-filters="sRGB"><feComponentTransfer><feFuncA type="discrete" tableValues="0 1"/></feComponentTransfer></filter>
<filter id="crisp2" x="0" y="0" width="100%" height="100%" color-interpolation-filters="sRGB"><feComponentTransfer><feFuncA type="discrete" tableValues="0 1 1"/></feComponentTransfer></filter></defs>
<g xml:space="preserve" filter="url(#crisp)">
<text class="s" transform="translate(53,586) rotate(-90) scale(0.86,1)" x="0 6.98 15.7 20.93 27.91 34.88 43.6 48.84 55.81" y="0" font-size="11.2" fill="#000">19. 00:00</text>
<text class="s" transform="translate(94,586) rotate(-90) scale(0.86,1)" x="0 6.98 15.7 20.93 27.91 34.88 43.6 48.84 55.81" y="0" font-size="11.2" fill="#000">19. 01:00</text>
<text class="s" transform="translate(133,586) rotate(-90) scale(0.86,1)" x="0 6.98 15.7 20.93 27.91 34.88 43.6 48.84 55.81" y="0" font-size="11.2" fill="#000">19. 02:00</text>
<text class="s" transform="translate(173,586) rotate(-90) scale(0.86,1)" x="0 6.98 15.7 20.93 27.91 34.88 43.6 48.84 55.81" y="0" font-size="11.2" fill="#000">19. 03:00</text>
<text class="s" transform="translate(212,586) rotate(-90) scale(0.86,1)" x="0 6.98 15.7 20.93 27.91 34.88 43.6 48.84 55.81" y="0" font-size="11.2" fill="#000">19. 04:00</text>
<text class="s" transform="translate(251,586) rotate(-90) scale(0.86,1)" x="0 6.98 15.7 20.93 27.91 34.88 43.6 48.84 55.81" y="0" font-size="11.2" fill="#000">19. 05:00</text>
<text class="s" transform="translate(290,586) rotate(-90) scale(0.86,1)" x="0 6.98 15.7 20.93 27.91 34.88 43.6 48.84 55.81" y="0" font-size="11.2" fill="#000">19. 06:00</text>
<text class="s" transform="translate(330,586) rotate(-90) scale(0.86,1)" x="0 6.98 15.7 20.93 27.91 34.88 43.6 48.84 55.81" y="0" font-size="11.2" fill="#000">19. 07:00</text>
<text class="s" transform="translate(368,586) rotate(-90) scale(0.86,1)" x="0 6.98 15.7 20.93 27.91 34.88 43.6 48.84 55.81" y="0" font-size="11.2" fill="#000">19. 08:00</text>
<text class="s" transform="translate(407,586) rotate(-90) scale(0.86,1)" x="0 6.98 15.7 20.93 27.91 34.88 43.6 48.84 55.81" y="0" font-size="11.2" fill="#000">19. 09:00</text>
<text class="s" transform="translate(446,586) rotate(-90) scale(0.86,1)" x="0 6.98 15.7 20.93 27.91 34.88 43.6 48.84 55.81" y="0" font-size="11.2" fill="#000">19. 10:00</text>
<text class="s" transform="translate(485,586) rotate(-90) scale(0.86,1)" x="0 6.98 15.7 20.93 27.91 34.88 43.6 48.84 55.81" y="0" font-size="11.2" fill="#000">19. 11:00</text>
<text class="s" transform="translate(523,586) rotate(-90) scale(0.86,1)" x="0 6.98 15.7 20.93 27.91 34.88 43.6 48.84 55.81" y="0" font-size="11.2" fill="#000">19. 12:00</text>
<text class="s" transform="translate(562,586) rotate(-90) scale(0.86,1)" x="0 6.98 15.7 20.93 27.91 34.88 43.6 48.84 55.81" y="0" font-size="11.2" fill="#000">19. 13:00</text>
<text class="s" transform="translate(601,586) rotate(-90) scale(0.86,1)" x="0 6.98 15.7 20.93 27.91 34.88 43.6 48.84 55.81" y="0" font-size="11.2" fill="#000">19. 14:00</text>
<text class="s" transform="translate(640,586) rotate(-90) scale(0.86,1)" x="0 6.98 15.7 20.93 27.91 34.88 43.6 48.84 55.81" y="0" font-size="11.2" fill="#000">19. 15:00</text>
<text class="s" transform="translate(679,586) rotate(-90) scale(0.86,1)" x="0 6.98 15.7 20.93 27.91 34.88 43.6 48.84 55.81" y="0" font-size="11.2" fill="#000">19. 16:00</text>
<text class="s" transform="translate(718,586) rotate(-90) scale(0.86,1)" x="0 6.98 15.7 20.93 27.91 34.88 43.6 48.84 55.81" y="0" font-size="11.2" fill="#000">19. 17:00</text>
<text class="s" transform="translate(757,586) rotate(-90) scale(0.86,1)" x="0 6.98 15.7 20.93 27.91 34.88 43.6 48.84 55.81" y="0" font-size="11.2" fill="#000">19. 18:00</text>
<text class="s" transform="translate(796,586) rotate(-90) scale(0.86,1)" x="0 6.98 15.7 20.93 27.91 34.88 43.6 48.84 55.81" y="0" font-size="11.2" fill="#000">19. 19:00</text>
<text class="s" transform="translate(835,586) rotate(-90) scale(0.86,1)" x="0 6.98 15.7 20.93 27.91 34.88 43.6 48.84 55.81" y="0" font-size="11.2" fill="#000">19. 20:00</text>
<text class="s" transform="translate(874,586) rotate(-90) scale(0.86,1)" x="0 6.98 15.7 20.93 27.91 34.88 43.6 48.84 55.81" y="0" font-size="11.2" fill="#000">19. 21:00</text>
<text class="s" transform="translate(913,586) rotate(-90) scale(0.86,1)" x="0 6.98 15.7 20.93 27.91 34.88 43.6 48.84 55.81" y="0" font-size="11.2" fill="#000">19. 22:00</text>
<text class="s" transform="translate(951,586) rotate(-90) scale(0.86,1)" x="0 6.98 15.7 20.93 27.91 34.88 43.6 48.84 55.81" y="0" font-size="11.2" fill="#000">19. 23:00</text>
</g>
<g xml:space="preserve" filter="url(#crisp2)">
<text class="m" transform="translate(10,602) scale(0.926,1)" x="0 5.4 10.8 16.2 21.6 27 32.4 37.8 43.2 48.6 54 59.4 64.79 70.19 75.59 80.99 86.39 91.79 97.19 102.59 107.99 113.39" y="0" font-size="9" fill="#000">Letzte Aktualisierung:</text>
<text class="s" transform="translate(125,602)" x="0 5 11 15 20 26 30 35 40 45 51" y="0" font-size="8.4" fill="#000">20.12.2025,</text>
<text class="s" transform="translate(185,602)" x="0 5 11 15 20 26 30 35" y="0" font-size="8.4" fill="#000">00:00:03</text>
<text class="m" transform="translate(230,602) scale(0.926,1)" x="0 5.4 10.8" y="0" font-size="9" fill="#000">Uhr</text>
<text class="m" transform="translate(835,602) scale(0.926,1)" x="0 5.4 10.8 16.2 21.6 27 32.4 37.8 43.2 48.6 54" y="0" font-size="9" fill="#000">Datenstand:</text>
<text class="s" transform="translate(895,602)" x="0 5 11 15 20 26 30 35 40 45 51" y="0" font-size="8.4" fill="#000">19.12.2025,</text>
<text class="s" transform="translate(955,602)" x="0 5 11 15 20 26 30 35" y="0" font-size="8.4" fill="#000">23:59:41</text>
<text class="m" transform="translate(1000,602) scale(0.926,1)" x="0 5.4 10.8" y="0" font-size="9" fill="#000">Uhr</text>
</g>
<g xml:space="preserve" filter="url(#crisp3)">
<text class="s" transform="translate(7,35) scale(0.86,1)" x="0 9.3 18.6 27.91" y="0" font-size="14.2" fill="#000">1022</text>
<text class="s" transform="translate(7,283) scale(0.86,1)" x="0 9.3 18.6 27.91" y="0" font-size="14.2" fill="#000">1020</text>
<text class="s" transform="translate(7,531) scale(0.86,1)" x="0 9.3 18.6 27.91" y="0" font-size="14.2" fill="#000">1018</text>
<text class="s" transform="translate(995.5,35) scale(0.86,1)" x="0 9.3" y="0" font-size="14.2" fill="#000">20</text>
<text class="s" transform="translate(995.5,283) scale(0.86,1)" x="0 9.3" y="0" font-size="14.2" fill="#ff0000">10</text>
<text class="s" transform="translate(995.5,531) scale(0.86,1)" x="0" y="0" font-size="14.2" fill="#000">0</text>
<text class="m b" transform="translate(382,18)" x="0 9 18 27 36 45" y="0" font-size="15" fill="#00ffff">Druck,</text>
<text class="m b" transform="translate(444,18)" x="0 9 18 27 36 45" y="0" font-size="15" fill="#6a5acd">Blitze</text>
<text class="m b" transform="translate(508,18)" x="0 9 18" y="0" font-size="15" fill="#000">und</text>
<text class="m b" transform="translate(544,18)" x="0 9 18 27 36 45 54 63 72 81 90" y="0" font-size="15" fill="#ff0000">Blitz-Entf.</text>
<text class="m b" transform="translate(649.5,18)" x="0 9 18 27 36 45 54 63 72 81 90 99 108" y="0" font-size="15" fill="#000">am 19.12.2025</text>
</g>
</svg>
</body></html>
